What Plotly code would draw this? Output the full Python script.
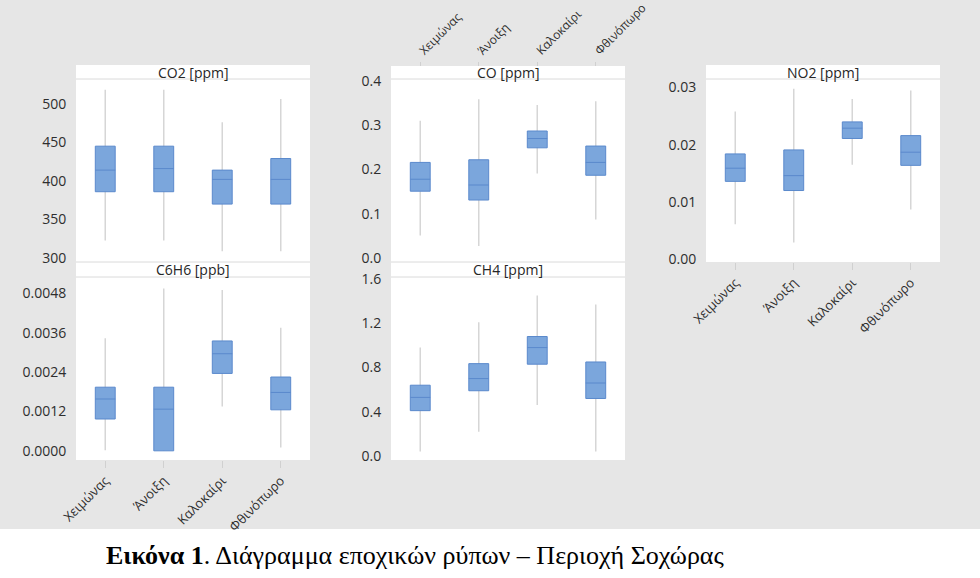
import plotly.graph_objects as go

seasons = ["Χειμώνας", "Άνοιξη", "Καλοκαίρι", "Φθινόπωρο"]

co2_q1 = [386, 386, 370, 370]
co2_med = [414, 416, 402, 402]
co2_q3 = [445, 445, 414, 429]
co2_lo = [323, 323, 309, 309]
co2_hi = [518, 518, 476, 506]

co_q1 = [0.151, 0.131, 0.249, 0.187]
co_med = [0.178, 0.165, 0.270, 0.216]
co_q3 = [0.216, 0.222, 0.287, 0.253]
co_lo = [0.051, 0.027, 0.191, 0.087]
co_hi = [0.310, 0.359, 0.346, 0.354]

no2_q1 = [0.0136, 0.0120, 0.0211, 0.0164]
no2_med = [0.0159, 0.0146, 0.0229, 0.0187]
no2_q3 = [0.0184, 0.0191, 0.0240, 0.0216]
no2_lo = [0.0061, 0.0029, 0.0165, 0.0087]
no2_hi = [0.0258, 0.0298, 0.0280, 0.0295]

c6h6_q1 = [0.00097, 0.0, 0.00236, 0.00125]
c6h6_med = [0.00158, 0.00127, 0.00296, 0.00178]
c6h6_q3 = [0.00194, 0.00194, 0.00335, 0.00225]
c6h6_lo = [0.00002, 0.0, 0.00135, 0.0001]
c6h6_hi = [0.00343, 0.00495, 0.0049, 0.00375]

ch4_q1 = [0.41, 0.59, 0.83, 0.52]
ch4_med = [0.53, 0.70, 0.98, 0.66]
ch4_q3 = [0.64, 0.835, 1.08, 0.85]
ch4_lo = [0.04, 0.22, 0.46, 0.04]
ch4_hi = [0.98, 1.21, 1.45, 1.37]

co2_ticks = [300, 350, 400, 450, 500]
co_ticks = [0.0, 0.1, 0.2, 0.3, 0.4]
no2_ticks = [0.00, 0.01, 0.02, 0.03]
c6h6_ticks = [0.0, 0.0012, 0.0024, 0.0036, 0.0048]
ch4_ticks = [0.0, 0.4, 0.8, 1.2, 1.6]

caption = "<b>Εικόνα 1</b>. Διάγραμμα εποχικών ρύπων – Περιοχή Σοχώρας"

W, H = 980, 578
def fx(p):
    return p / W
def fy(p):
    return 1 - p / H

FONT = "Open Sans"
TXT = "#2e2e2e"

panels = [
    dict(title="CO2 [ppm]", q1=co2_q1, med=co2_med, q3=co2_q3, lo=co2_lo, hi=co2_hi,
         x=(76, 310), y=(79, 262), strip=65, yr=[295, 532], ticks=co2_ticks, fmt="d", xl="none"),
    dict(title="C6H6 [ppb]", q1=c6h6_q1, med=c6h6_med, q3=c6h6_q3, lo=c6h6_lo, hi=c6h6_hi,
         x=(76, 310), y=(277, 460), strip=262, yr=[-0.00028, 0.0053], ticks=c6h6_ticks, fmt=".4f", xl="bottom"),
    dict(title="CO [ppm]", q1=co_q1, med=co_med, q3=co_q3, lo=co_lo, hi=co_hi,
         x=(391, 625), y=(79, 262), strip=66, yr=[-0.009, 0.4045], ticks=co_ticks, fmt=".1f", xl="top"),
    dict(title="CH4 [ppm]", q1=ch4_q1, med=ch4_med, q3=ch4_q3, lo=ch4_lo, hi=ch4_hi,
         x=(391, 625), y=(277, 460), strip=262, yr=[-0.036, 1.618], ticks=ch4_ticks, fmt=".1f", xl="none"),
    dict(title="NO2 [ppm]", q1=no2_q1, med=no2_med, q3=no2_q3, lo=no2_lo, hi=no2_hi,
         x=(706, 940), y=(79, 262), strip=65, yr=[-0.0005, 0.0315], ticks=no2_ticks, fmt=".2f", xl="bottom"),
]

fig = go.Figure()
layout = {}
shapes = []
annotations = []

for i, p in enumerate(panels, start=1):
    xa = "x" if i == 1 else f"x{i}"
    ya = "y" if i == 1 else f"y{i}"
    fig.add_trace(go.Box(
        x=seasons, q1=p["med"], median=p["med"], q3=p["med"],
        lowerfence=p["lo"], upperfence=p["hi"],
        xaxis=xa, yaxis=ya, width=0.34, whiskerwidth=0,
        line=dict(color="#d6d6d6", width=1.5), fillcolor="rgba(0,0,0,0)",
        showlegend=False, hoverinfo="skip", boxpoints=False,
    ))
    fig.add_trace(go.Box(
        x=seasons, q1=p["q1"], median=p["med"], q3=p["q3"],
        lowerfence=p["q1"], upperfence=p["q3"],
        xaxis=xa, yaxis=ya, width=0.34, whiskerwidth=0,
        line=dict(color="#5a89cc", width=1), fillcolor="#7ba6dc",
        showlegend=False, hoverinfo="skip", boxpoints=False,
    ))
    xkey = "xaxis" if i == 1 else f"xaxis{i}"
    ykey = "yaxis" if i == 1 else f"yaxis{i}"
    xd = [fx(p["x"][0]), fx(p["x"][1])]
    yd = [fy(p["y"][1]), fy(p["y"][0])]
    xax = dict(domain=xd, anchor=ya, type="category", range=[-0.5, 3.5], automargin=False,
               showgrid=False, zeroline=False, showline=False,
               categoryorder="array", categoryarray=seasons,
               tickfont=dict(family=FONT, size=13, color=TXT), tickangle=-45)
    if p["xl"] == "none":
        xax.update(showticklabels=False, ticks="")
    elif p["xl"] == "bottom":
        xax.update(showticklabels=True, ticks="outside", ticklen=7, tickcolor="#d0d0d0", side="bottom")
    else:
        xax.update(showticklabels=True, ticks="outside", ticklen=4, tickcolor="#d0d0d0",
                   side="top", anchor="free", position=fy(p["strip"]),
                   tickfont=dict(family=FONT, size=12, color=TXT))
    layout[xkey] = xax
    layout[ykey] = dict(domain=yd, anchor=xa, range=p["yr"], tickvals=p["ticks"], automargin=False,
                        tickformat=p["fmt"], showgrid=False, zeroline=False, showline=False,
                        ticks="outside", ticklen=6, tickcolor="rgba(0,0,0,0)",
                        tickfont=dict(family=FONT, size=14, color=TXT))
    shapes.append(dict(type="rect", xref="paper", yref="paper",
                       x0=xd[0], x1=xd[1], y0=fy(p["y"][0]), y1=fy(p["strip"]),
                       fillcolor="white", line=dict(width=0), layer="below"))
    shapes.append(dict(type="line", xref="paper", yref="paper",
                       x0=xd[0], x1=xd[1], y0=fy(p["y"][0]), y1=fy(p["y"][0]),
                       line=dict(color="#dadada", width=1)))
    if p["strip"] > 200:
        shapes.append(dict(type="line", xref="paper", yref="paper",
                           x0=xd[0], x1=xd[1], y0=fy(p["strip"]), y1=fy(p["strip"]),
                           line=dict(color="#dadada", width=1)))
    annotations.append(dict(text=p["title"], xref="paper", yref="paper",
                            x=(xd[0] + xd[1]) / 2, y=fy((p["strip"] + p["y"][0]) / 2),
                            xanchor="center", yanchor="middle", showarrow=False,
                            font=dict(family=FONT, size=14, color="#262626")))

shapes.append(dict(type="rect", xref="paper", yref="paper", x0=0, x1=1, y0=0, y1=fy(529),
                   fillcolor="white", line=dict(width=0), layer="below"))
annotations.append(dict(text=caption, xref="paper", yref="paper", x=fx(104), y=fy(555),
                        xanchor="left", yanchor="middle", showarrow=False,
                        font=dict(family="Liberation Serif", size=26, color="black")))

fig.update_layout(
    width=W, height=H, autosize=False,
    margin=dict(l=0, r=0, t=0, b=0, pad=0),
    paper_bgcolor="#e6e6e6", plot_bgcolor="white",
    boxmode="overlay",
    shapes=shapes, annotations=annotations,
    **layout,
)

fig.write_html("out.html")
